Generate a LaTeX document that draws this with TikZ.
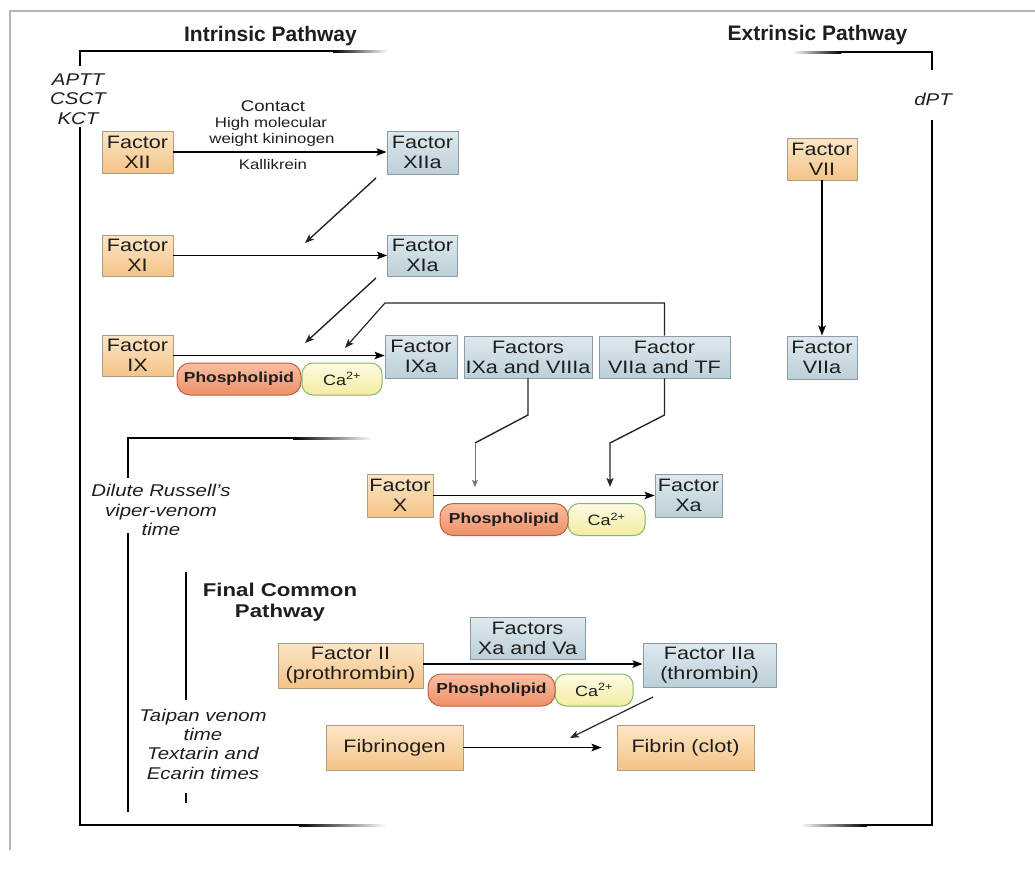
\documentclass[tikz,border=0pt]{standalone}
\usepackage{fontspec}
\setmainfont{Liberation Sans}[FakeStretch=1.2]
\newfontfamily\titlefont{Liberation Sans}
\usetikzlibrary{arrows.meta}
\definecolor{orgT}{HTML}{FCE6C6}
\definecolor{orgB}{HTML}{F4C388}
\definecolor{orgD}{HTML}{AE9C80}
\definecolor{bluT}{HTML}{DEE9EE}
\definecolor{bluB}{HTML}{BCCFD9}
\definecolor{bluD}{HTML}{8C9BA5}
\definecolor{phT}{HTML}{F8BFA2}
\definecolor{phB}{HTML}{EE9068}
\definecolor{phD}{HTML}{C4613C}
\definecolor{caT}{HTML}{FDFBE2}
\definecolor{caB}{HTML}{F3EBA2}
\definecolor{caD}{HTML}{86B866}
\definecolor{txt}{HTML}{1E1E1E}
\definecolor{frame}{HTML}{B4B4B4}
\tikzset{
  obox/.style={draw=orgD, line width=0.9pt, top color=orgT, bottom color=orgB,
    inner sep=0pt, align=center, text=txt, font=\fontsize{18}{20}\selectfont},
  bbox/.style={draw=bluD, line width=0.9pt, top color=bluT, bottom color=bluB,
    inner sep=0pt, align=center, text=txt, font=\fontsize{18}{20}\selectfont},
  phpill/.style={draw=phD, line width=1pt, top color=phT, bottom color=phB,
    rounded corners=13pt, inner sep=0pt, minimum height=32pt, text=txt,
    font=\bfseries\fontsize{14.5}{17}\selectfont},
  capill/.style={draw=caD, line width=1pt, top color=caT, bottom color=caB,
    rounded corners=11pt, inner sep=0pt, minimum height=32pt, text=txt,
    font=\fontsize{15}{17}\selectfont},
  arr/.style={line width=1.6pt, draw=black, -{Stealth[length=10pt,width=7.5pt,inset=2pt]}},
  darr/.style={line width=1.4pt, draw=black!85, -{Stealth[length=9pt,width=7pt,inset=2pt]}},
  tarr/.style={line width=0.7pt, draw=black!55, -{Stealth[length=7pt,width=6pt,inset=1.5pt]}},
  brk/.style={line width=2pt, draw=black},
  ttl/.style={font=\titlefont\bfseries\fontsize{21}{24}\selectfont, text=txt},
  ttl2/.style={font=\bfseries\fontsize{18.5}{21}\selectfont, text=txt, align=center},
  itl/.style={font=\itshape\fontsize{17}{19.5}\selectfont, text=txt, align=center},
  sml/.style={font=\fontsize{14}{16}\selectfont, text=txt}
}
\begin{document}
\begin{tikzpicture}[x=1pt,y=-1pt]
\useasboundingbox (0,0) rectangle (1035,870);
% outer light frame
\draw[frame, line width=1.5pt] (1035,11) -- (10,11) -- (10,850);

% ---- brackets ----
% left (intrinsic)
\draw[brk] (334,51) -- (80,51) -- (80,66);
\draw[brk] (80,127) -- (80,825) -- (300,825);
\shade[left color=black, right color=white] (333,50) rectangle (388,52);
\shade[left color=black, right color=white] (299,824) rectangle (386,826);
% right (extrinsic)
\draw[brk] (840,52) -- (932,52) -- (932,70);
\draw[brk] (932,120) -- (932,825) -- (866,825);
\shade[left color=white, right color=black] (792,51) rectangle (841,53);
\shade[left color=white, right color=black] (800,824) rectangle (867,826);
% dilute Russell's
\draw[brk] (294,438) -- (128,438) -- (128,478);
\draw[brk] (128,533) -- (128,812);
\shade[left color=black, right color=white] (293,437) rectangle (372,439);
% final common
\draw[brk] (186,572) -- (186,700);
\draw[line width=1.2pt] (186,793) -- (186,803);

% ---- titles and side labels ----
\node[ttl] (tIn) at (270.5,36) {Intrinsic Pathway};
\node[ttl] (tEx) at (817.5,35) {Extrinsic Pathway};
\node[ttl2] (tFin) at (280,602) {Final Common\\Pathway};
\node[itl] (lAPTT) at (78,99) {APTT\\CSCT\\KCT};
\node[itl] (lDPT) at (933,99) {dPT};
\node[itl] (lDRV) at (161,510) {Dilute Russell's\\viper-venom\\time};
\node[itl, font=\itshape\fontsize{17}{19.3}\selectfont] (lTai) at (203,744) {Taipan venom\\time\\Textarin and\\Ecarin times};

% ---- contact labels ----
\node[sml, font=\fontsize{15.5}{18}\selectfont] (lCon) at (273,106) {Contact};
\node[sml] (lHMW1) at (271,124) {High molecular};
\node[sml] (lHMW2) at (272,140) {weight kininogen};
\node[sml] (lKal) at (273,164) {Kallikrein};

% ---- factor boxes ----
\node[obox, minimum width=71pt, minimum height=42pt] (XII) at (137.5,152) {Factor\\XII};
\node[bbox, minimum width=71pt, minimum height=43pt] (XIIa) at (422.5,152.5) {Factor\\XIIa};
\node[obox, minimum width=71pt, minimum height=41pt] (XI) at (137.5,255.5) {Factor\\XI};
\node[bbox, minimum width=70pt, minimum height=41pt] (XIa) at (422.5,255.5) {Factor\\XIa};
\node[obox, minimum width=71pt, minimum height=41pt] (IX) at (137.5,355.5) {Factor\\IX};
\node[bbox, minimum width=72pt, minimum height=43pt] (IXa) at (421,356.5) {Factor\\IXa};
\node[bbox, minimum width=128pt, minimum height=42pt] (IXaVIIIa) at (528,357) {Factors\\IXa and VIIIa};
\node[bbox, minimum width=131pt, minimum height=42pt] (VIIaTF) at (664.5,357) {Factor\\VIIa and TF};
\node[obox, minimum width=70pt, minimum height=42pt] (VII) at (822,159) {Factor\\VII};
\node[bbox, minimum width=70pt, minimum height=43pt] (VIIa) at (822,357.5) {Factor\\VIIa};
\node[obox, minimum width=66pt, minimum height=43pt] (X) at (400,495.5) {Factor\\X};
\node[bbox, minimum width=67pt, minimum height=43pt] (Xa) at (688.5,495.5) {Factor\\Xa};
\node[obox, minimum width=145pt, minimum height=45pt] (II) at (350.5,665.5) {Factor II\\(prothrombin)};
\node[bbox, minimum width=115pt, minimum height=42pt] (XaVa) at (527.5,638) {Factors\\Xa and Va};
\node[bbox, minimum width=133pt, minimum height=44pt] (IIa) at (709.5,665) {Factor IIa\\(thrombin)};
\node[obox, minimum width=137pt, minimum height=45pt] (Fbg) at (394.5,747.5) {Fibrinogen};
\node[obox, minimum width=137pt, minimum height=45pt] (Fbn) at (685.5,747.5) {Fibrin (clot)};

% ---- phospholipid / calcium pills ----
\node[capill, minimum width=80pt] (Ca1) at (342,379) {Ca\textsuperscript{2+}};
\node[phpill, minimum width=124pt] (Ph1) at (239,379) {Phospholipid};
\node[capill, minimum width=77pt] (Ca2) at (606.5,519.5) {Ca\textsuperscript{2+}};
\node[phpill, minimum width=128pt] (Ph2) at (504,519.5) {Phospholipid};
\node[capill, minimum width=78pt] (Ca3) at (594,690) {Ca\textsuperscript{2+}};
\node[phpill, minimum width=127pt] (Ph3) at (491.5,690) {Phospholipid};

% ---- main conversion arrows ----
\draw[arr] (XII.east) -- (XII.east -| XIIa.west);
\draw[arr] (XI.east) -- (XI.east -| XIa.west);
\draw[arr] (IX.east) -- (IX.east -| IXa.west);
\draw[arr] (VII.south) -- (VIIa.north);
\draw[arr] (X.east) -- (X.east -| Xa.west);
\coordinate (IIr) at ([yshift=1.5pt]II.east);
\draw[arr] (IIr) -- (IIr -| IIa.west);
\draw[arr, shorten >=15pt] (Fbg.east) -- (Fbg.east -| Fbn.west);

% ---- activating arrows ----
\coordinate (d1s) at (376,178);
\coordinate (d1e) at (305,243);
\draw[darr] (d1s) -- (d1e);
\coordinate (d2s) at (376,278);
\coordinate (d2e) at (305,343);
\draw[darr] (d2s) -- (d2e);
\coordinate (fb1) at (664.5,303);
\coordinate (fb2) at (385,303);
\coordinate (fb3) at (345,348);
\draw[darr, line width=1.2pt] (VIIaTF.north) -- (fb1) -- (fb2) -- (fb3);
\coordinate (k1) at (528,415);
\coordinate (k2) at (475,443);
\coordinate (k3) at (475,487);
\draw[line width=1.4pt, black!85] (IXaVIIIa.south) -- (k1) -- (k2);
\draw[tarr] (k2) -- (k3);
\coordinate (m1) at (664.5,415);
\coordinate (m2) at (610,443);
\coordinate (m3) at (610,487);
\draw[darr] (VIIaTF.south) -- (m1) -- (m2) -- (m3);
\coordinate (t1) at (653,697);
\coordinate (t2) at (570,738);
\draw[darr, line width=1.2pt] (t1) -- (t2);
\end{tikzpicture}
\end{document}
